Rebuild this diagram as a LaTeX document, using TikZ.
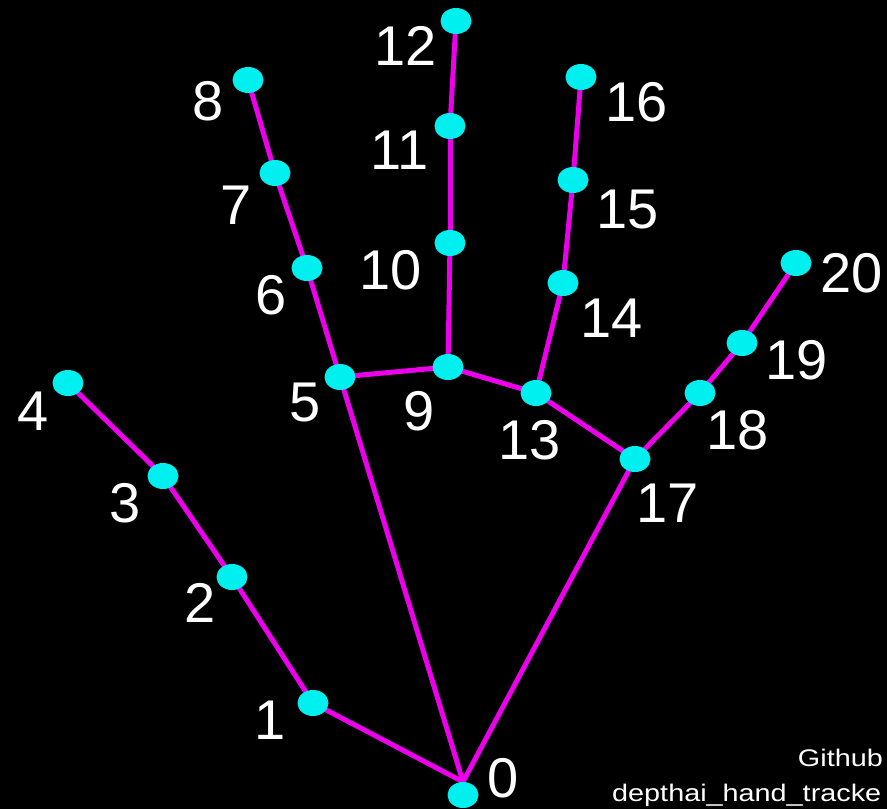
\documentclass[tikz,border=0pt]{standalone}
\usepackage{fontspec}
\setmainfont{Liberation Sans}
\newfontfamily\credfont[FakeStretch=1.2]{Liberation Sans}
\usetikzlibrary{shapes,backgrounds}
\definecolor{bonecol}{RGB}{236,0,236}
\definecolor{jointcol}{RGB}{0,240,240}

\begin{document}
\begin{tikzpicture}[x=1pt,y=-1pt]
\tikzstyle{joint}=[ellipse, fill=jointcol, minimum width=31pt, minimum height=26pt, inner sep=0pt]
\tikzstyle{lbl}=[text=white, inner sep=0pt, font=\fontsize{56}{60}\selectfont]
\tikzstyle{bone}=[draw=bonecol, line width=5pt]
\tikzstyle{cred}=[text=white, inner sep=0pt, font=\credfont\fontsize{24}{27}\selectfont]
\useasboundingbox (0,0) rectangle (887,809);
% joints
\foreach \n/\x/\y in {0/463/795,1/313/703,2/232/577,3/163/476,4/68/383,
  5/340/377,6/307/268,7/275/173,8/248/80,9/448/367,10/450/243,11/450/126,12/456/21,
  13/536/393,14/563/283,15/573/180,16/581/77,17/635/459,18/700/393,19/742/343,20/796/263}{
  \node[joint] (j\n) at (\x,\y) {};}
% numbers
\foreach \n/\x/\y in {0/503/778,1/270/720,2/200/603,3/125/503,4/33/411,
  5/305/403,6/271/295,7/236/205,8/208/101,9/419/411,10/391/270,11/400/150,12/406/46,
  13/530/440,14/612/318,15/628/210,16/637/102,17/668/503,18/738/430,19/797/360,20/852/273}{
  \node[lbl] (l\n) at (\x,\y) {\n};}
\begin{scope}[on background layer]
\fill[black] (0,0) rectangle (887,809);
\draw[bone] (j1.center) -- (j0.north) -- (j5.center);
\draw[bone] (j0.north) -- (j17.center);
\foreach \i/\j in {1/2,2/3,3/4,5/6,6/7,7/8,5/9,9/10,10/11,11/12,9/13,13/14,14/15,15/16,13/17,17/18,18/19,19/20}{
  \draw[bone] (j\i.center) -- (j\j.center);}
\end{scope}
\node[cred, anchor=base east] (gh) at (883,766) {Github};
\node[cred, anchor=base west] (repo) at (612,801) {depthai\_hand\_tracke};
\end{tikzpicture}
\end{document}
